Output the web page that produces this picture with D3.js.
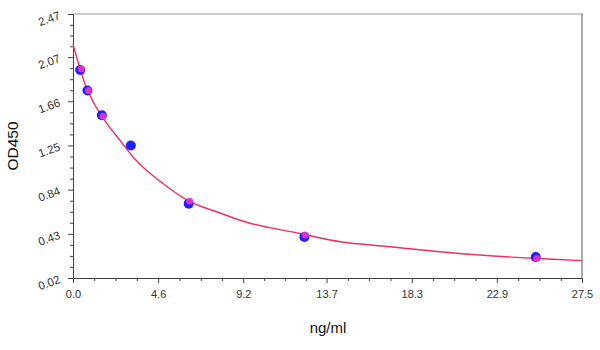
<!DOCTYPE html>
<html>
<head>
<meta charset="utf-8">
<script src="https://cdn.jsdelivr.net/npm/d3@7"></script>
<style>
  html, body { margin: 0; padding: 0; background: #fff; }
  svg { display: block; }
</style>
</head>
<body>
<svg id="chart" width="600" height="350"></svg>
<script>
// ---- Data ----
const concentrations = [0.39, 0.78, 1.56, 3.125, 6.25, 12.5, 25];
const measuredOD = [1.95, 1.76, 1.53, 1.25, 0.71, 0.40, 0.215];
const fittedOD = [1.96, 1.76, 1.52, null, 0.735, 0.42, 0.20];
const curveX = [0.0, 0.38, 0.74, 1.5, 2.81, 3.35, 4.16, 6.32, 7.76, 9.56, 12.26, 14.43, 17.13, 19.83, 21.99, 24.85, 27.5];
const curveY = [2.19, 1.965, 1.78, 1.533, 1.238, 1.122, 0.992, 0.728, 0.635, 0.528, 0.433, 0.357, 0.310, 0.264, 0.233, 0.203, 0.181];
const xTickLabels = ["0.0", "4.6", "9.2", "13.7", "18.3", "22.9", "27.5"];
const yTickLabels = ["0.02", "0.43", "0.84", "1.25", "1.66", "2.07", "2.47"];
const xTitle = "ng/ml";
const yTitle = "OD450";

// ---- Layout ----
const L = 73, R = 582, T = 14, B = 278;
const svg = d3.select("#chart");
const x = d3.scaleLinear().domain([0, 27.5]).range([L, R]);
const y = d3.scaleLinear().domain([0.02, 2.47]).range([B, T]);

const xMajor = xTickLabels.map(Number);
const yMajor = yTickLabels.map(Number);
function minors(major) {
  const out = [];
  for (let i = 0; i < major.length - 1; i++) {
    const s = (major[i + 1] - major[i]) / 4;
    for (let k = 1; k < 4; k++) out.push(major[i] + s * k);
  }
  return out;
}

// frame: top and right
svg.append("line").attr("x1", L).attr("x2", R + 1).attr("y1", T).attr("y2", T)
  .attr("stroke", "#9a9a9a").attr("stroke-width", 1);
svg.append("line").attr("x1", R).attr("x2", R).attr("y1", T).attr("y2", B)
  .attr("stroke", "#555").attr("stroke-width", 1);

// x axis
const xAxisG = svg.append("g").attr("transform", `translate(0,${B})`);
xAxisG.call(d3.axisBottom(x).tickValues(minors(xMajor)).tickSize(3).tickFormat(""))
  .call(g => g.select(".domain").remove());
xAxisG.append("g").call(d3.axisBottom(x).tickValues(xMajor).tickSize(5)
  .tickFormat((d, i) => xTickLabels[i]));
xAxisG.selectAll("line,path").attr("stroke", "#444");
xAxisG.selectAll("text").attr("fill", "#333").attr("font-size", 11)
  .attr("font-family", "Liberation Sans, Arial, sans-serif").attr("dy", "1.05em");

// y axis
const yAxisG = svg.append("g").attr("transform", `translate(${L},0)`);
yAxisG.call(d3.axisLeft(y).tickValues(minors(yMajor)).tickSize(3).tickFormat(""))
  .call(g => g.select(".domain").remove());
const yMaj = yAxisG.append("g").call(d3.axisLeft(y).tickValues(yMajor).tickSize(5)
  .tickFormat((d, i) => yTickLabels[i]));
yAxisG.selectAll("line,path").attr("stroke", "#444");
yMaj.selectAll(".tick text")
  .attr("x", null).attr("dy", null)
  .attr("transform", "translate(-12,4) rotate(-20)")
  .attr("text-anchor", "end")
  .attr("fill", "#333").attr("font-size", 11.5)
  .attr("font-family", "Liberation Sans, Arial, sans-serif");

// fitted curve
const curvePts = curveX.map((d, i) => [d, curveY[i]]);
svg.append("path")
  .datum(curvePts)
  .attr("fill", "none")
  .attr("stroke", "#f2305c")
  .attr("stroke-width", 1.4)
  .attr("d", d3.line().x(d => x(d[0])).y(d => y(d[1])).curve(d3.curveCatmullRom));

// points
svg.append("g").selectAll("circle").data(concentrations).join("circle")
  .attr("cx", d => x(d)).attr("cy", (d, i) => y(measuredOD[i]))
  .attr("r", 5).attr("fill", "#1f1fff");
const fitPts = concentrations.map((d, i) => [d, fittedOD[i]]).filter(p => p[1] != null);
svg.append("g").selectAll("circle").data(fitPts).join("circle")
  .attr("cx", d => x(d[0]) + 1).attr("cy", d => y(d[1]))
  .attr("r", 3.5).attr("fill", "#ff33cc").attr("opacity", 0.85);

// titles
svg.append("text").attr("x", 328).attr("y", 333).attr("text-anchor", "middle")
  .attr("font-size", 15).attr("fill", "#111")
  .attr("font-family", "Liberation Sans, Arial, sans-serif").text(xTitle);
svg.append("text").attr("transform", "translate(18,146) rotate(-90)")
  .attr("text-anchor", "middle").attr("font-size", 15.5).attr("fill", "#111")
  .attr("font-family", "Liberation Sans, Arial, sans-serif").text(yTitle);
</script>
</body>
</html>
